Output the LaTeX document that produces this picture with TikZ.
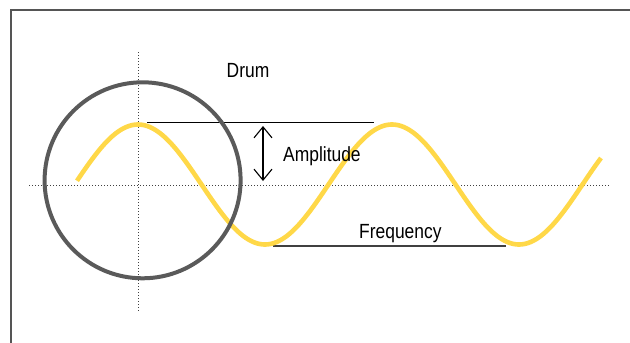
\documentclass[tikz,border=0pt]{standalone}
\usepackage{fontspec}
\setmainfont{Liberation Sans}[FakeStretch=0.85]
\usetikzlibrary{arrows.meta}
\definecolor{waveyellow}{RGB}{255,216,72}
\definecolor{drumgray}{RGB}{90,90,90}
\definecolor{framegray}{RGB}{85,85,85}
\tikzset{
  frameline/.style={draw=framegray, line width=1.8pt},
  dotline/.style={draw=black!75, line width=1pt, dash pattern=on 1pt off 2pt},
  drumline/.style={draw=drumgray, line width=4pt},
  waveline/.style={draw=waveyellow, line width=4.6pt},
  refline/.style={draw=black, line width=1.2pt},
  freqline/.style={draw=black!75, line width=1.5pt},
  label/.style={inner sep=0pt, anchor=base west, font=\fontsize{20.5}{24}\selectfont, text=black},
  amparrow/.style={draw=black, line width=1.1pt, {Straight Barb[length=11pt,width=18pt]}-{Straight Barb[length=11pt,width=18pt]}}
}
\begin{document}
\begin{tikzpicture}[x=1pt,y=-1pt]
\useasboundingbox (0,0) rectangle (630,343);
% frame
\coordinate (fbl) at (11,343);
\coordinate (ftl) at (11,10);
\coordinate (ftr) at (630,10);
\draw[frameline] (fbl) -- (ftl) -- (ftr);
% dotted axes
\coordinate (vtop) at (138,52);
\coordinate (vbot) at (138,311);
\coordinate (hleft) at (29,185);
\coordinate (hright) at (609,185);
\draw[dotline] (vtop) -- (vbot);
\draw[dotline] (hleft) -- (hright);
% reference lines
\coordinate (ampL) at (147,122.7);
\coordinate (ampR) at (374,122.7);
\draw[refline] (ampL) -- (ampR);
\coordinate (freqL) at (273,245.8);
\coordinate (freqR) at (506,245.8);
\draw[freqline] (freqL) -- (freqR);
% wave
\draw[waveline] plot[domain=77:601, samples=240, smooth] (\x, {184.5-60*cos((\x-138)*1.417323)});
% drum
\coordinate (drumc) at (142.6,180.3);
\draw[drumline] (drumc) circle[radius=98];
% amplitude arrow
\coordinate (arrT) at (263,126);
\coordinate (arrB) at (263,181);
\draw[amparrow] (arrT) -- (arrB);
% labels
\node[label] (drum) at (226.5,77) {Drum};
\node[label] (amp) at (283,161.7) {Amplitude};
\node[label] (freq) at (359,238.5) {Frequency};
\end{tikzpicture}
\end{document}
